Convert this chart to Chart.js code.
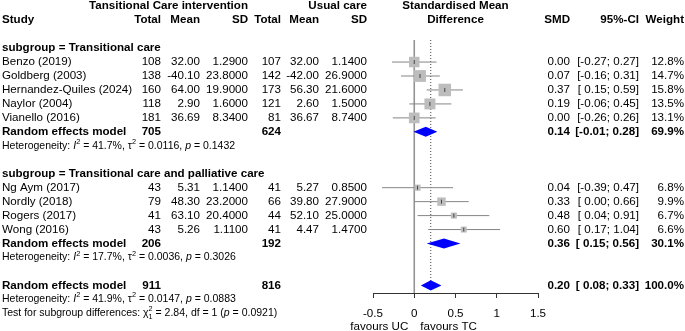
<!DOCTYPE html>
<html>
<head>
<meta charset="utf-8">
<script src="https://cdn.jsdelivr.net/npm/chart.js@4"></script>
<style>
  body { margin: 0; background: #fff; }
  #wrap { width: 685px; height: 331px; position: relative; }
</style>
</head>
<body>
<div id="wrap"><canvas id="forest"></canvas></div>
<script>
// study level data
const studies = ["Benzo (2019)", "Goldberg (2003)", "Hernandez-Quiles (2024)", "Naylor (2004)", "Vianello (2016)",
    "Ng Aym (2017)", "Nordly (2018)", "Rogers (2017)", "Wong (2016)"];
const studyGroup = [0, 0, 0, 0, 0, 1, 1, 1, 1];
const intTotal = [108, 138, 160, 118, 181, 43, 79, 41, 43];
const intMean = [32.00, -40.10, 64.00, 2.90, 36.69, 5.31, 48.30, 63.10, 5.26];
const intSD = [1.29, 23.8, 19.9, 1.6, 8.34, 1.14, 23.2, 20.4, 1.11];
const ucTotal = [107, 142, 173, 121, 81, 41, 66, 44, 41];
const ucMean = [32.00, -42.00, 56.30, 2.60, 36.67, 5.27, 39.80, 52.10, 4.47];
const ucSD = [1.14, 26.9, 21.6, 1.5, 8.74, 0.85, 27.9, 25.0, 1.47];
const smd = [0.00, 0.07, 0.37, 0.19, 0.00, 0.04, 0.33, 0.48, 0.60];
const ciLow = [-0.27, -0.16, 0.15, -0.06, -0.26, -0.39, 0.00, 0.04, 0.17];
const ciHigh = [0.27, 0.31, 0.59, 0.45, 0.26, 0.47, 0.66, 0.91, 1.04];
const weight = [12.8, 14.7, 15.8, 13.5, 13.1, 6.8, 9.9, 6.7, 6.6];

// subgroup summaries
const groupNames = ["Transitional care", "Transitional care and palliative care"];
const groupIntTotal = [705, 206];
const groupUcTotal = [624, 192];
const groupSmd = [0.14, 0.36];
const groupLow = [-0.01, 0.15];
const groupHigh = [0.28, 0.56];
const groupWeight = [69.9, 30.1];
const groupI2 = ["41.7%", "17.7%"];
const groupTau2 = ["0.0116", "0.0036"];
const groupP = ["0.1432", "0.3026"];

// overall
const overallIntTotal = 911;
const overallUcTotal = 816;
const overallSmd = 0.20;
const overallLow = 0.08;
const overallHigh = 0.33;
const overallWeight = 100.0;
const overallI2 = "41.9%";
const overallTau2 = "0.0147";
const overallP = "0.0883";
const testChi2 = "2.84";
const testDf = "1";
const testP = "0.0921";

const xTicks = [-0.5, 0, 0.5, 1, 1.5];

// work out which row everything goes on
const studyRow = [];
const headerRow = [];
const summaryRow = [];
const hetRow = [];
let r = 3;
for (let g = 0; g < groupNames.length; g++) {
    headerRow.push(r++);
    for (let i = 0; i < studies.length; i++) {
        if (studyGroup[i] === g) studyRow[i] = r++;
    }
    summaryRow.push(r++);
    hetRow.push(r++);
    r++;
}
const overallRow = r;

const FONT = '"Liberation Sans", Arial, sans-serif';
const MAIN = 11.6;
const SMALL = 10.5;
const DIAMOND_H = 0.36; // half height of the diamonds, in rows

const squareSide = (w) => 1.2 * Math.pow(w, 0.85);
const fmtCI = (v) => (v < 0 ? v.toFixed(2) : " " + v.toFixed(2));
const ciText = (lo, hi) => "[" + fmtCI(lo) + "; " + hi.toFixed(2) + "]";

// CI segments, broken by null points
const ciData = [];
for (let i = 0; i < studies.length; i++) {
    ciData.push({x: ciLow[i], y: studyRow[i]}, {x: ciHigh[i], y: studyRow[i]}, {x: ciHigh[i], y: null});
}
const pointData = studies.map((s, i) => ({x: smd[i], y: studyRow[i]}));

// diamonds as two halves filled between each other
const diamondSets = [];
const addDiamond = (est, lo, hi, row) => {
    diamondSets.push({
        type: "line",
        data: [{x: lo, y: row}, {x: est, y: row - DIAMOND_H}, {x: hi, y: row}],
        borderWidth: 0, pointRadius: 0, backgroundColor: "#0000ff",
        fill: "+1", order: 2
    });
    diamondSets.push({
        type: "line",
        data: [{x: lo, y: row}, {x: est, y: row + DIAMOND_H}, {x: hi, y: row}],
        borderWidth: 0, pointRadius: 0, backgroundColor: "#0000ff",
        fill: false, order: 2
    });
};
for (let g = 0; g < groupNames.length; g++) addDiamond(groupSmd[g], groupLow[g], groupHigh[g], summaryRow[g]);
addDiamond(overallSmd, overallLow, overallHigh, overallRow);

// draw text with italic / super / subscript pieces
const drawRich = (ctx, x, y, parts, size) => {
    ctx.textAlign = "left";
    ctx.textBaseline = "middle";
    for (let p of parts) {
        const [txt, kind, extra] = p;
        if (kind === "sup" || kind === "supsub") {
            ctx.font = (size * 0.7) + "px " + FONT;
            ctx.fillText(txt, x, y - size * 0.38);
            let w = ctx.measureText(txt).width;
            if (kind === "supsub") {
                ctx.fillText(extra, x, y + size * 0.35);
                w = Math.max(w, ctx.measureText(extra).width);
            }
            x += w;
        } else {
            ctx.font = (kind === "i" ? "italic " : "") + size + "px " + FONT;
            ctx.fillText(txt, x, y);
            x += ctx.measureText(txt).width;
        }
    }
};

const hetParts = (i2, tau2, p) => [
    ["Heterogeneity: ", "n"], ["I", "i"], ["2", "sup"], [" = " + i2 + ", ", "n"],
    ["\u03c4", "n"], ["2", "sup"], [" = " + tau2 + ", ", "n"], ["p", "i"], [" = " + p, "n"]
];

const textPlugin = {
    id: "forestText",
    afterDraw(chart) {
        const ctx = chart.ctx;
        const xs = chart.scales.x;
        const ys = chart.scales.y;
        const Y = (row) => ys.getPixelForValue(row);
        const col = {study: 2, intTotal: 161, intMean: 200, intSD: 248, ucTotal: 281, ucMean: 319, ucSD: 367, smd: 570, ci: 639, w: 684};
        const put = (txt, x, row, align, bold) => {
            ctx.font = (bold ? "bold " : "") + MAIN + "px " + FONT;
            ctx.textAlign = align;
            ctx.textBaseline = "middle";
            ctx.fillText(txt, x, Y(row));
        };
        ctx.save();
        ctx.fillStyle = "#000";

        // headers
        put("Tansitional Care intervention", col.intSD, 0, "right", true);
        put("Usual care", col.ucSD, 0, "right", true);
        put("Standardised Mean", xs.getPixelForValue(0.5), 0, "center", true);
        put("Study", col.study, 1, "left", true);
        put("Total", col.intTotal, 1, "right", true);
        put("Mean", col.intMean, 1, "right", true);
        put("SD", col.intSD, 1, "right", true);
        put("Total", col.ucTotal, 1, "right", true);
        put("Mean", col.ucMean, 1, "right", true);
        put("SD", col.ucSD, 1, "right", true);
        put("Difference", xs.getPixelForValue(0.5), 1, "center", true);
        put("SMD", col.smd, 1, "right", true);
        put("95%-CI", col.ci, 1, "right", true);
        put("Weight", col.w, 1, "right", true);

        for (let g = 0; g < groupNames.length; g++) {
            put("subgroup = " + groupNames[g], col.study, headerRow[g], "left", true);
            const sr = summaryRow[g];
            put("Random effects model", col.study, sr, "left", true);
            put(String(groupIntTotal[g]), col.intTotal, sr, "right", true);
            put(String(groupUcTotal[g]), col.ucTotal, sr, "right", true);
            put(groupSmd[g].toFixed(2), col.smd, sr, "right", true);
            put(ciText(groupLow[g], groupHigh[g]), col.ci, sr, "right", true);
            put(groupWeight[g].toFixed(1) + "%", col.w, sr, "right", true);
            drawRich(ctx, col.study, Y(hetRow[g]), hetParts(groupI2[g], groupTau2[g], groupP[g]), SMALL);
        }

        for (let i = 0; i < studies.length; i++) {
            const row = studyRow[i];
            put(studies[i], col.study, row, "left", false);
            put(String(intTotal[i]), col.intTotal, row, "right", false);
            put(intMean[i].toFixed(2), col.intMean, row, "right", false);
            put(intSD[i].toFixed(4), col.intSD, row, "right", false);
            put(String(ucTotal[i]), col.ucTotal, row, "right", false);
            put(ucMean[i].toFixed(2), col.ucMean, row, "right", false);
            put(ucSD[i].toFixed(4), col.ucSD, row, "right", false);
            put(smd[i].toFixed(2), col.smd, row, "right", false);
            put(ciText(ciLow[i], ciHigh[i]), col.ci, row, "right", false);
            put(weight[i].toFixed(1) + "%", col.w, row, "right", false);
        }

        put("Random effects model", col.study, overallRow, "left", true);
        put(String(overallIntTotal), col.intTotal, overallRow, "right", true);
        put(String(overallUcTotal), col.ucTotal, overallRow, "right", true);
        put(overallSmd.toFixed(2), col.smd, overallRow, "right", true);
        put(ciText(overallLow, overallHigh), col.ci, overallRow, "right", true);
        put(overallWeight.toFixed(1) + "%", col.w, overallRow, "right", true);
        drawRich(ctx, col.study, Y(overallRow + 1), hetParts(overallI2, overallTau2, overallP), SMALL);
        drawRich(ctx, col.study, Y(overallRow + 2), [
            ["Test for subgroup differences: ", "n"], ["\u03c7", "n"], ["2", "supsub", testDf],
            [" = " + testChi2 + ", df = " + testDf + " (", "n"], ["p", "i"], [" = " + testP + ")", "n"]
        ], SMALL);

        // favours labels under the axis
        const zx = xs.getPixelForValue(0);
        ctx.font = MAIN + "px " + FONT;
        ctx.textBaseline = "middle";
        ctx.textAlign = "right";
        ctx.fillText("favours UC", zx - 6, 327);
        ctx.textAlign = "left";
        ctx.fillText("favours TC", zx + 6, 327);
        ctx.restore();
    }
};

const lineTop = 2.42;
const yMax = 20.545;

new Chart(document.querySelector("#forest"), {
    type: "scatter",
    data: {
        datasets: [
            {
                // point estimate tick inside each square
                data: pointData,
                pointStyle: "line",
                rotation: 90,
                pointRadius: 2,
                borderColor: "#444",
                borderWidth: 1,
                order: 0
            },
            {
                data: pointData,
                pointStyle: "rect",
                pointRadius: (c) => squareSide(weight[c.dataIndex]) / Math.SQRT2,
                backgroundColor: "#bdbdbd",
                borderWidth: 0,
                order: 1
            },
            ...diamondSets,
            {
                type: "line",
                data: ciData,
                borderColor: "#858585",
                borderWidth: 1,
                pointRadius: 0,
                fill: false,
                order: 3
            },
            {
                // line of no effect
                type: "line",
                data: [{x: 0, y: lineTop}, {x: 0, y: yMax}],
                borderColor: "#949494",
                borderWidth: 1.6,
                pointRadius: 0,
                fill: false,
                order: 4
            },
            {
                // overall estimate
                type: "line",
                data: [{x: overallSmd, y: lineTop}, {x: overallSmd, y: overallRow}],
                borderColor: "#444",
                borderWidth: 1,
                borderDash: [1, 2],
                pointRadius: 0,
                fill: false,
                order: 4
            }
        ]
    },
    options: {
        responsive: true,
        maintainAspectRatio: false,
        animation: false,
        layout: {autoPadding: false, padding: {left: 373, right: 147, top: 0, bottom: 0}},
        plugins: {
            legend: {display: false},
            tooltip: {enabled: false}
        },
        scales: {
            x: {
                type: "linear",
                min: -0.5,
                max: 1.5,
                afterBuildTicks: (s) => { s.ticks = xTicks.map((v) => ({value: v})); },
                afterFit: (s) => { s.height = 38; },
                ticks: {
                    color: "#000",
                    padding: 9,
                    font: {family: FONT, size: MAIN},
                    callback: (v) => String(v)
                },
                grid: {drawOnChartArea: false, drawTicks: true, tickLength: 5, color: "#333"},
                border: {display: true, color: "#333", width: 1}
            },
            y: {
                type: "linear",
                reverse: true,
                min: -0.445,
                max: yMax,
                display: false
            }
        }
    },
    plugins: [textPlugin]
});
</script>
</body>
</html>
